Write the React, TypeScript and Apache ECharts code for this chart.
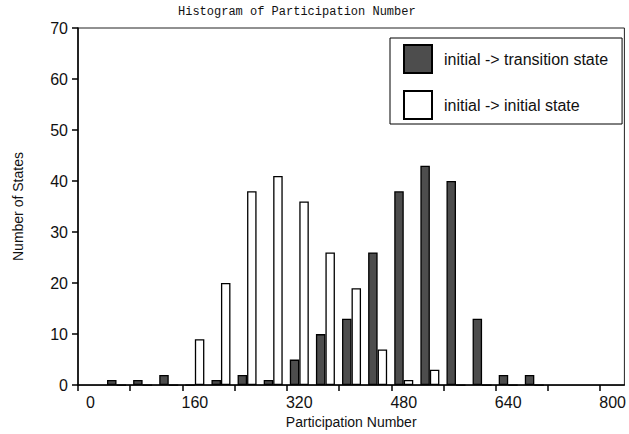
import React, { useEffect, useRef } from "react";
import * as echarts from "echarts";

const binCenters = [40, 80, 120, 160, 200, 240, 280, 320, 360, 400, 440, 480, 520, 560, 600, 640, 680];
const transitionCounts = [1, 1, 2, 0, 1, 2, 1, 5, 10, 13, 26, 38, 43, 40, 13, 2, 2];
const initialCounts = [0, 0, 0, 9, 20, 38, 41, 36, 26, 19, 7, 1, 3, 0, 0, 0, 0];
const xLabelValues = [0, 160, 320, 480, 640, 800];
const xTickValues = [-19, 61, 141, 221, 301, 381, 461, 541, 621, 701, 781];

const FONT = "Liberation Sans, Arial, sans-serif";

export default function App() {
  const ref = useRef<HTMLDivElement>(null);
  useEffect(() => {
    if (!ref.current) return;
    const chart = echarts.init(ref.current, undefined, { renderer: "svg" });
    const trans = binCenters.map((x, i) => [x, transitionCounts[i]]);
    const init = binCenters.map((x, i) => [x, initialCounts[i]]);
    chart.setOption({
      animation: false,
      backgroundColor: "#fff",
      title: {
        text: "Histogram of Participation Number",
        left: 178,
        top: 6,
        padding: 0,
        textStyle: { fontFamily: "Liberation Mono, Courier New, monospace", fontSize: 12, fontWeight: "normal", color: "#111" },
      },
      legend: {
        orient: "vertical",
        left: 390,
        top: 38,
        itemWidth: 28,
        itemHeight: 28,
        itemGap: 16,
        padding: [6, 14, 4, 13],
        borderColor: "#000",
        borderWidth: 1,
        icon: "rect",
        textStyle: { fontFamily: FONT, fontSize: 16, color: "#111", padding: [0, 0, 0, 7] },
        data: ["initial -> transition state", "initial -> initial state"],
      },
      grid: {
        left: 78,
        top: 28,
        right: 2,
        bottom: 46,
        show: true,
        borderColor: "#222",
        borderWidth: 1,
        containLabel: false,
      },
      xAxis: {
        type: "value",
        min: -19,
        max: 818,
        name: "Participation Number",
        nameLocation: "middle",
        nameGap: 27,
        nameTextStyle: { fontFamily: FONT, fontSize: 14, color: "#111" },
        splitLine: { show: false },
        axisLine: { show: true, onZero: false, lineStyle: { color: "#000", width: 1.5 } },
        axisTick: { show: true, length: 6, lineStyle: { color: "#000", width: 1.5 }, customValues: xTickValues },
        axisLabel: { fontFamily: FONT, fontSize: 16, color: "#111", margin: 9, customValues: xLabelValues, showMinLabel: true, showMaxLabel: true },
      },
      yAxis: {
        type: "value",
        min: 0,
        max: 70,
        interval: 10,
        name: "Number of States",
        nameLocation: "middle",
        nameGap: 53,
        nameTextStyle: { fontFamily: FONT, fontSize: 14, color: "#111" },
        splitLine: { show: false },
        axisLine: { show: true, onZero: false, lineStyle: { color: "#000", width: 1.5 } },
        axisTick: { show: true, length: 6, lineStyle: { color: "#000", width: 1.5 } },
        axisLabel: { fontFamily: FONT, fontSize: 16, color: "#111", margin: 10 },
      },
      series: [
        {
          name: "initial -> transition state",
          type: "bar",
          data: trans,
          barWidth: 9.5,
          barGap: "0%",
          itemStyle: { color: "#4d4d4d", borderColor: "#000", borderWidth: 1.3 },
        },
        {
          name: "initial -> initial state",
          type: "bar",
          data: init,
          barWidth: 9.5,
          barGap: "0%",
          itemStyle: { color: "#fff", borderColor: "#000", borderWidth: 1.3 },
        },
      ],
    });
    return () => chart.dispose();
  }, []);
  return <div ref={ref} style={{ position: "fixed", left: 0, top: 0, width: 629, height: 434 }} />;
}
